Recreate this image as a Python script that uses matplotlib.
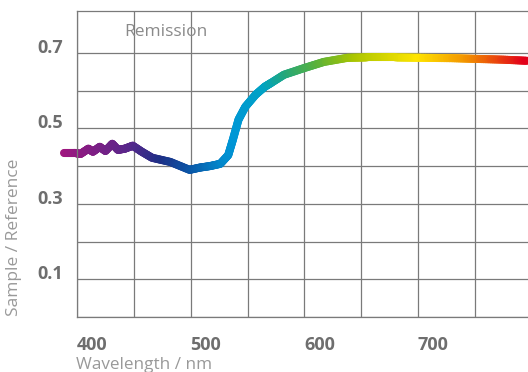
import numpy as np
import matplotlib
matplotlib.use("Agg")
import matplotlib.pyplot as plt
from matplotlib.collections import LineCollection
from matplotlib.colors import LinearSegmentedColormap
from matplotlib.transforms import ScaledTranslation

plt.rcParams["font.family"] = ["Open Sans", "DejaVu Sans"]

# --- data ---
wavelength = [389, 398, 403, 410, 414, 420, 425, 431, 436, 442, 449, 457, 466,
              482, 499, 508, 517, 526, 533, 537, 542, 548, 557, 565, 571, 582,
              600, 617, 638, 655, 680, 702, 730, 752, 775, 796]
remission = [0.435, 0.435, 0.432, 0.446, 0.438, 0.451, 0.440, 0.459, 0.443,
             0.446, 0.454, 0.438, 0.422, 0.411, 0.390, 0.396, 0.400, 0.406,
             0.429, 0.469, 0.523, 0.557, 0.589, 0.610, 0.621, 0.642, 0.660,
             0.676, 0.687, 0.688, 0.688, 0.687, 0.686, 0.684, 0.682, 0.679]

x_grid = [400, 450, 500, 550, 600, 650, 700, 750]
x_labels = ["400", "", "500", "", "600", "", "700", ""]
y_grid = [0.0, 0.1, 0.2, 0.3, 0.4, 0.5, 0.6, 0.7]
y_labels = ["", "0.1", "", "0.3", "", "0.5", "", "0.7"]

# colour stops of the gradient along the wavelength axis
grad_pos = [389, 449, 475, 500, 537, 566, 584, 614, 645, 702, 746, 796]
grad_col = ["#a0167f", "#55288b", "#1d2f86", "#0b55a6", "#0096d6", "#00a3c4",
            "#22a77d", "#5bb23a", "#a9c500", "#ffe500", "#f29100", "#e2001a"]

grid_c = "#7a7a7a"
text_c = "#6e6e6e"
light_c = "#999999"

fig = plt.figure(figsize=(5.28, 3.72), dpi=100)
ax = fig.add_axes([77 / 528, 55 / 372, 451 / 528, 306 / 372])

ax.set_xlim(400, 796.6)
ax.set_ylim(0, 0.811)

ax.set_xticks(x_grid)
ax.set_xticklabels(x_labels)
ax.set_yticks(y_grid)
ax.set_yticklabels(y_labels)
ax.grid(True, color=grid_c, linewidth=0.9)
ax.set_axisbelow(True)
ax.tick_params(length=0, labelsize=13, labelcolor=text_c)
ax.tick_params(axis="x", pad=14)
ax.tick_params(axis="y", pad=10)
for lab in ax.get_xticklabels():
    lab.set_fontweight("bold")
    lab.set_transform(lab.get_transform() + ScaledTranslation(15 / 100, 0, fig.dpi_scale_trans))
for lab in ax.get_yticklabels():
    lab.set_fontweight("bold")
    lab.set_transform(lab.get_transform() + ScaledTranslation(0, 7 / 100, fig.dpi_scale_trans))

for side in ["left", "bottom", "top"]:
    ax.spines[side].set_color(grid_c)
    ax.spines[side].set_linewidth(0.9)
ax.spines["right"].set_visible(False)

# gradient coloured curve
cmap = LinearSegmentedColormap.from_list(
    "spec", [((p - grad_pos[0]) / (grad_pos[-1] - grad_pos[0]), c) for p, c in zip(grad_pos, grad_col)])
xs, ys = [], []
for i in range(len(wavelength) - 1):
    t = np.linspace(0, 1, 12, endpoint=False)
    xs.extend(wavelength[i] + t * (wavelength[i + 1] - wavelength[i]))
    ys.extend(remission[i] + t * (remission[i + 1] - remission[i]))
xs.append(wavelength[-1])
ys.append(remission[-1])
pts = np.column_stack([xs, ys]).reshape(-1, 1, 2)
segs = np.concatenate([pts[:-1], pts[1:]], axis=1)
mids = (np.array(xs[:-1]) + np.array(xs[1:])) / 2
lc = LineCollection(segs, colors=cmap((mids - grad_pos[0]) / (grad_pos[-1] - grad_pos[0])),
                    linewidths=5.8, capstyle="round", joinstyle="round", clip_on=False)
ax.add_collection(lc)

ax.text(0.197, 0.93, "Remission", transform=ax.transAxes, ha="center", va="center",
        fontsize=12.5, color="#8a8a8a")
fig.text(14 / 528, 1 - 237 / 372, "Sample / Reference", rotation=90, ha="center",
         va="center", fontsize=12.5, color=light_c)
fig.text(144 / 528, 1 - 365 / 372, "Wavelength / nm", ha="center", va="center",
         fontsize=12.3, color=light_c)

fig.savefig("out.png", dpi=100)
